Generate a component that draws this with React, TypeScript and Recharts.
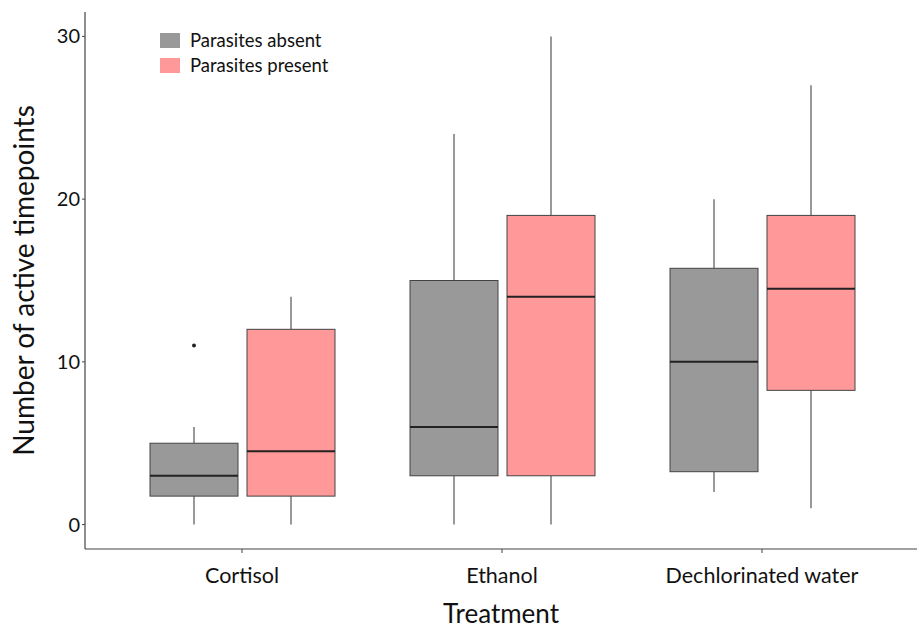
import React from 'react';
import { ComposedChart, Bar, XAxis, YAxis, Legend } from 'recharts';

const categories = ['Cortisol', 'Ethanol', 'Dechlorinated water'];

const absentMin = [0, 0, 2];
const absentQ1 = [1.75, 3, 3.25];
const absentMedian = [3, 6, 10];
const absentQ3 = [5, 15, 15.75];
const absentMax = [6, 24, 20];
const absentOutliers: number[][] = [[11], [], []];

const presentMin = [0, 0, 1];
const presentQ1 = [1.75, 3, 8.25];
const presentMedian = [4.5, 14, 14.5];
const presentQ3 = [12, 19, 19];
const presentMax = [14, 30, 27];
const presentOutliers: number[][] = [[], [], []];

const yTicks = [0, 10, 20, 30];
const seriesNames = ['Parasites absent', 'Parasites present'];
const seriesColors = ['#999999', '#FF9999'];

const FONT = 'Lato, "Open Sans", sans-serif';

type Stats = { min: number; q1: number; median: number; q3: number; max: number; outliers: number[] };

const data = categories.map((category, i) => ({
  category,
  absent: { min: absentMin[i], q1: absentQ1[i], median: absentMedian[i], q3: absentQ3[i], max: absentMax[i], outliers: absentOutliers[i] } as Stats,
  present: { min: presentMin[i], q1: presentQ1[i], median: presentMedian[i], q3: presentQ3[i], max: presentMax[i], outliers: presentOutliers[i] } as Stats,
}));

const lowOf = (s: Stats) => Math.min(s.min, ...s.outliers);
const highOf = (s: Stats) => Math.max(s.max, ...s.outliers);

const makeShape = (key: 'absent' | 'present', fill: string) => (props: any) => {
  const { x, y, width, height, payload } = props;
  const s: Stats = payload[key];
  const lo = lowOf(s);
  const hi = highOf(s);
  const top = Math.min(y, y + height);
  const bot = Math.max(y, y + height);
  const py = (v: number) => bot - ((v - lo) / (hi - lo)) * (bot - top);
  const cx = x + width / 2;
  return (
    <g>
      <line x1={cx} x2={cx} y1={py(s.min)} y2={py(s.q1)} stroke="#555" strokeWidth={1.2} />
      <line x1={cx} x2={cx} y1={py(s.q3)} y2={py(s.max)} stroke="#555" strokeWidth={1.2} />
      <rect x={x} y={py(s.q3)} width={width} height={py(s.q1) - py(s.q3)} fill={fill} stroke="#444" strokeWidth={1} />
      <line x1={x} x2={x + width} y1={py(s.median)} y2={py(s.median)} stroke="#222" strokeWidth={2} />
      {s.outliers.map((o, j) => (
        <circle key={j} cx={cx} cy={py(o)} r={2} fill="#222" />
      ))}
    </g>
  );
};

const XTick = (props: any) => {
  const { x, payload } = props;
  return (
    <text x={x} y={583} textAnchor="middle" fontFamily={FONT} fontSize={21.5} fill="#111">
      {payload.value}
    </text>
  );
};

const YTick = (props: any) => {
  const { x, y, payload } = props;
  return (
    <text x={x} y={y + 7} textAnchor="end" fontFamily={FONT} fontSize={20} fill="#111">
      {payload.value}
    </text>
  );
};

const LegendContent = () => (
  <div style={{ fontFamily: FONT, fontSize: 18.5, color: '#111', lineHeight: '25px' }}>
    {seriesNames.map((n, i) => (
      <div key={n} style={{ display: 'flex', alignItems: 'center', height: 25 }}>
        <div style={{ width: 20, height: 15, background: seriesColors[i], marginRight: 10 }} />
        <span>{n}</span>
      </div>
    ))}
  </div>
);

export default function App() {
  return (
    <div style={{ position: 'absolute', left: 0, top: 0, width: 917, height: 628, background: '#fff' }}>
      <ComposedChart
        width={917}
        height={628}
        data={data}
        margin={{ top: 12, right: 0, bottom: 0, left: 0 }}
        barSize={88}
        barGap={9}
      >
        <XAxis
          dataKey="category"
          height={79}
          padding={{ left: 27, right: 25 }}
          tick={<XTick />}
          tickSize={4}
          axisLine={{ stroke: '#444', strokeWidth: 1.2 }}
          tickLine={{ stroke: '#444' }}
          label={{ value: 'Treatment', position: 'insideBottom', offset: 5, style: { fontFamily: FONT, fontSize: 26, fill: '#111' } }}
        />
        <YAxis
          type="number"
          domain={[-1.5, 31.5]}
          ticks={yTicks}
          allowDataOverflow
          width={85}
          tick={<YTick />}
          tickSize={3}
          tickMargin={2}
          axisLine={{ stroke: '#444', strokeWidth: 1.2 }}
          tickLine={{ stroke: '#444' }}
          label={{ value: 'Number of active timepoints', angle: -90, position: 'insideLeft', offset: 24, style: { textAnchor: 'middle', fontFamily: FONT, fontSize: 28, fill: '#111' } }}
        />
        <Legend
          layout="horizontal"
          verticalAlign="middle"
          align="center"
          wrapperStyle={{ position: 'absolute', left: 160, top: 28, width: 200 }}
          content={<LegendContent />}
        />
        <Bar
          name={seriesNames[0]}
          dataKey={(d: any) => [lowOf(d.absent), highOf(d.absent)]}
          fill={seriesColors[0]}
          shape={makeShape('absent', seriesColors[0])}
          isAnimationActive={false}
        />
        <Bar
          name={seriesNames[1]}
          dataKey={(d: any) => [lowOf(d.present), highOf(d.present)]}
          fill={seriesColors[1]}
          shape={makeShape('present', seriesColors[1])}
          isAnimationActive={false}
        />
      </ComposedChart>
    </div>
  );
}
